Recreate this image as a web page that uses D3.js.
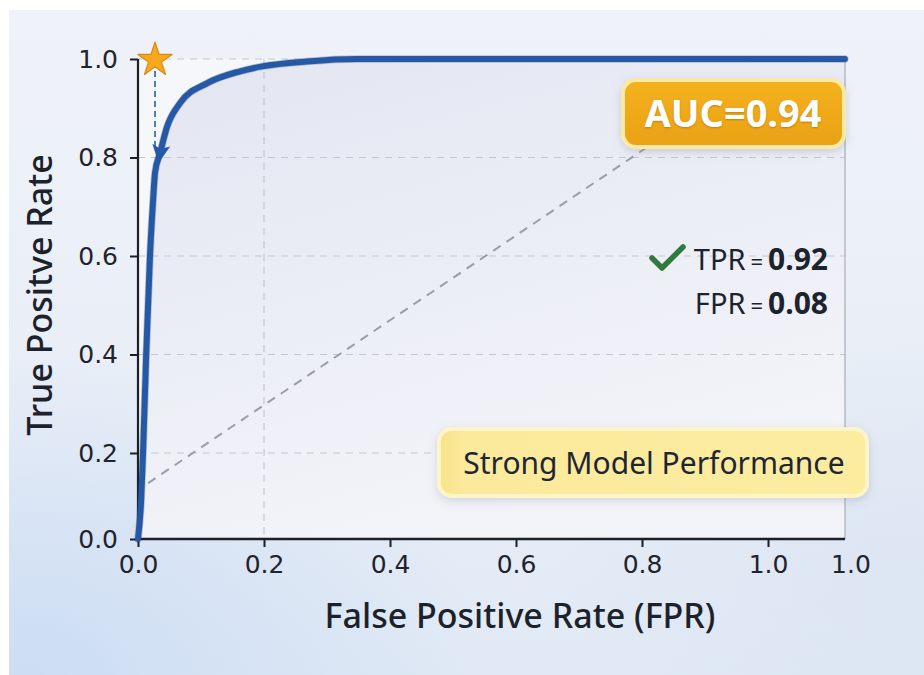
<!DOCTYPE html>
<html>
<head>
<meta charset="utf-8">
<script src="https://cdn.jsdelivr.net/npm/d3@7"></script>
<style>
  html, body { margin: 0; padding: 0; background: #ffffff; }
  svg { display: block; }
</style>
</head>
<body>
<svg id="chart" width="924" height="675"></svg>
<script>
// ROC curve points (false positive rate, true positive rate)
const rocFpr = [0, 0.005, 0.008, 0.013, 0.019, 0.024, 0.027, 0.035, 0.046, 0.067, 0.110, 0.162, 0.197, 0.268, 0.348, 1.122];
const rocTpr = [0, 0.09, 0.20, 0.40, 0.60, 0.714, 0.769, 0.809, 0.862, 0.911, 0.951, 0.975, 0.985, 0.995, 1.0, 1.0];

// reference (chance) line, drawn dashed
const refFpr = [0.016, 0.90];
const refTpr = [0.13, 0.90];

// highlighted operating point
const starPoint = { fpr: 0.027, tpr: 1.0 };
const arrowPoint = { fpr: 0.035, tpr: 0.809 };

const xTicks = [0, 0.2, 0.4, 0.6, 0.8, 1.0];
const xTickLabels = ["0.0", "0.2", "0.4", "0.6", "0.8", "1.0"];
const xEdgeLabel = "1.0";
const yTicks = [0, 0.2, 0.4, 0.6, 0.8, 1.0];
const yTickLabels = ["0.0", "0.2", "0.4", "0.6", "0.8", "1.0"];
const xGrid = [0.2];
const yGrid = [0.2, 0.4, 0.6, 0.8, 1.0];

const aucValue = 0.94;
const tprValue = 0.92;
const fprValue = 0.08;
const xTitle = "False Positive Rate (FPR)";
const yTitle = "True Positve Rate";
const noteText = "Strong Model Performance";

const svg = d3.select("#chart");
const defs = svg.append("defs");

// ---------- background ----------
const bgGrad = defs.append("linearGradient").attr("id", "bgGrad")
  .attr("x1", 0).attr("y1", 0).attr("x2", 0).attr("y2", 1);
bgGrad.append("stop").attr("offset", "0%").attr("stop-color", "#eff2f8");
bgGrad.append("stop").attr("offset", "60%").attr("stop-color", "#e9eef7");
bgGrad.append("stop").attr("offset", "100%").attr("stop-color", "#e0e9f5");

const bgGlow = defs.append("radialGradient").attr("id", "bgGlow")
  .attr("cx", 0.02).attr("cy", 1).attr("r", 0.5);
bgGlow.append("stop").attr("offset", "0%").attr("stop-color", "#cadcf3").attr("stop-opacity", 0.9);
bgGlow.append("stop").attr("offset", "100%").attr("stop-color", "#cadcf3").attr("stop-opacity", 0);

const bgGlow2 = defs.append("radialGradient").attr("id", "bgGlow2")
  .attr("cx", 1).attr("cy", 0.85).attr("r", 0.4);
bgGlow2.append("stop").attr("offset", "0%").attr("stop-color", "#dae4f1").attr("stop-opacity", 0.8);
bgGlow2.append("stop").attr("offset", "100%").attr("stop-color", "#dae4f1").attr("stop-opacity", 0);

svg.append("rect").attr("x", 9).attr("y", 10).attr("width", 915).attr("height", 665)
  .attr("fill", "url(#bgGrad)");
svg.append("rect").attr("x", 9).attr("y", 10).attr("width", 915).attr("height", 665)
  .attr("fill", "url(#bgGlow)");
svg.append("rect").attr("x", 9).attr("y", 10).attr("width", 915).attr("height", 665)
  .attr("fill", "url(#bgGlow2)");

// ---------- scales ----------
const plotLeft = 138, plotRight = 845, plotTop = 59, plotBottom = 539;
const x = d3.scaleLinear().domain([0, 1]).range([plotLeft, 768]);
const y = d3.scaleLinear().domain([0, 0.2, 1]).range([plotBottom, 453, plotTop]);

// plot panel
svg.append("rect")
  .attr("x", plotLeft).attr("y", plotTop)
  .attr("width", plotRight - plotLeft).attr("height", plotBottom - plotTop)
  .attr("fill", "#f6f7fb");

// ---------- area under the curve ----------
const rocData = rocFpr.map((f, i) => ({ fpr: f, tpr: rocTpr[i] }));
const areaGrad = defs.append("linearGradient").attr("id", "areaGrad")
  .attr("x1", 0).attr("y1", 0).attr("x2", 0.4).attr("y2", 1);
areaGrad.append("stop").attr("offset", "0%").attr("stop-color", "#e3e6f2");
areaGrad.append("stop").attr("offset", "100%").attr("stop-color", "#f3f4f9");

const area = d3.area()
  .x(d => x(d.fpr)).y0(y(0)).y1(d => y(d.tpr))
  .curve(d3.curveMonotoneX);
svg.append("path").datum(rocData).attr("d", area).attr("fill", "url(#areaGrad)");

// ---------- grid ----------
svg.append("g").selectAll("line").data(yGrid).join("line")
  .attr("x1", plotLeft).attr("x2", plotRight)
  .attr("y1", d => y(d)).attr("y2", d => y(d))
  .attr("stroke", "#c4c7d0").attr("stroke-width", 1.2)
  .attr("stroke-dasharray", "7,6");
svg.append("g").selectAll("line").data(xGrid).join("line")
  .attr("x1", d => x(d)).attr("x2", d => x(d))
  .attr("y1", plotTop).attr("y2", plotBottom)
  .attr("stroke", "#c4c7d0").attr("stroke-width", 1.2)
  .attr("stroke-dasharray", "7,6");

// right border of the panel
svg.append("line")
  .attr("x1", plotRight).attr("x2", plotRight).attr("y1", plotTop).attr("y2", plotBottom)
  .attr("stroke", "#a9acb4").attr("stroke-width", 1.2);

// ---------- chance line ----------
svg.append("line")
  .attr("x1", x(refFpr[0])).attr("y1", y(refTpr[0]))
  .attr("x2", x(refFpr[1])).attr("y2", y(refTpr[1]))
  .attr("stroke", "#9a9ca6").attr("stroke-width", 2)
  .attr("stroke-dasharray", "9,7");

// ---------- axes ----------
const xAxis = d3.axisBottom(x).tickValues(xTicks)
  .tickFormat((d, i) => xTickLabels[i]).tickSize(8).tickPadding(8);
const gx = svg.append("g").attr("transform", `translate(0,${plotBottom})`).call(xAxis);
gx.select(".domain").remove();
gx.selectAll(".tick line").attr("stroke", "#1b1f27").attr("stroke-width", 2);
gx.selectAll(".tick text").attr("font-family", "DejaVu Sans").attr("font-size", 25)
  .attr("fill", "#1f232b");
gx.append("text").attr("x", 851).attr("y", 16).attr("dy", "0.71em")
  .attr("text-anchor", "middle").attr("font-family", "DejaVu Sans").attr("font-size", 25)
  .attr("fill", "#1f232b").text(xEdgeLabel);

const yAxis = d3.axisLeft(y).tickValues(yTicks)
  .tickFormat((d, i) => yTickLabels[i]).tickSize(8).tickPadding(12);
const gy = svg.append("g").attr("transform", `translate(${plotLeft},0)`).call(yAxis);
gy.select(".domain").remove();
gy.selectAll(".tick line").attr("stroke", "#1b1f27").attr("stroke-width", 2);
gy.selectAll(".tick text").attr("font-family", "DejaVu Sans").attr("font-size", 25)
  .attr("fill", "#1f232b");

// axis lines
svg.append("line").attr("x1", plotLeft).attr("x2", plotLeft)
  .attr("y1", plotTop).attr("y2", plotBottom + 1)
  .attr("stroke", "#1b1f27").attr("stroke-width", 2.2);
svg.append("line").attr("x1", plotLeft - 1).attr("x2", plotRight)
  .attr("y1", plotBottom).attr("y2", plotBottom)
  .attr("stroke", "#1b1f27").attr("stroke-width", 2.4);

// ---------- ROC curve ----------
const line = d3.line().x(d => x(d.fpr)).y(d => y(d.tpr)).curve(d3.curveMonotoneX);
svg.append("path").datum(rocData).attr("d", line)
  .attr("fill", "none").attr("stroke", "#102a57").attr("stroke-width", 7.5)
  .attr("stroke-linecap", "round").attr("stroke-linejoin", "round").attr("opacity", 0.25);
svg.append("path").datum(rocData).attr("d", line)
  .attr("fill", "none").attr("stroke", "#2659a5").attr("stroke-width", 6)
  .attr("stroke-linecap", "round").attr("stroke-linejoin", "round");

// dashed drop line from the star to the curve
svg.append("line")
  .attr("x1", x(starPoint.fpr)).attr("x2", x(starPoint.fpr))
  .attr("y1", y(starPoint.tpr) + 12).attr("y2", y(arrowPoint.tpr) - 4)
  .attr("stroke", "#4a80c4").attr("stroke-width", 2).attr("stroke-dasharray", "6,4");

// arrowhead on the curve, pointing down along it
{
  const ax = x(arrowPoint.fpr), ay = y(arrowPoint.tpr);
  const bx = x(0.024), by = y(0.714);
  const ang = Math.atan2(by - ay, bx - ax) * 180 / Math.PI;
  svg.append("path")
    .attr("d", "M10,0 L-8,-9 L-4,0 L-8,9 Z")
    .attr("transform", `translate(${ax},${ay}) rotate(${ang})`)
    .attr("fill", "#2659a5");
}

// star marker
{
  const star = d3.symbol().type(d3.symbolStar).size(360);
  svg.append("path").attr("d", star())
    .attr("transform", `translate(${x(starPoint.fpr)},${y(starPoint.tpr) + 1})`)
    .attr("fill", "#f7a91d").attr("stroke", "#d98a0c").attr("stroke-width", 1.2)
    .attr("stroke-linejoin", "round");
}

// ---------- axis titles ----------
svg.append("text").attr("x", 520).attr("y", 628)
  .attr("text-anchor", "middle").attr("font-family", "Noto Sans").attr("font-weight", 500)
  .attr("font-size", 34).attr("fill", "#1c222c").text(xTitle);
svg.append("text").attr("transform", "translate(52,295) rotate(-90)")
  .attr("text-anchor", "middle").attr("font-family", "Noto Sans").attr("font-weight", 500)
  .attr("font-size", 34).attr("fill", "#1c222c").text(yTitle);

// ---------- drop shadow ----------
const shadow = defs.append("filter").attr("id", "softShadow")
  .attr("x", "-20%").attr("y", "-40%").attr("width", "140%").attr("height", "180%");
shadow.append("feDropShadow").attr("dx", 0).attr("dy", 3).attr("stdDeviation", 4)
  .attr("flood-color", "#6a7390").attr("flood-opacity", 0.25);

// ---------- AUC badge ----------
const aucGrad = defs.append("linearGradient").attr("id", "aucGrad")
  .attr("x1", 0).attr("y1", 0).attr("x2", 0).attr("y2", 1);
aucGrad.append("stop").attr("offset", "0%").attr("stop-color", "#f4b21f");
aucGrad.append("stop").attr("offset", "100%").attr("stop-color", "#eaa113");
svg.append("rect").attr("x", 623).attr("y", 80).attr("width", 221).attr("height", 67)
  .attr("rx", 13).attr("fill", "url(#aucGrad)")
  .attr("stroke", "#fbeaa6").attr("stroke-width", 4).attr("filter", "url(#softShadow)");
svg.append("text").attr("x", 733).attr("y", 127)
  .attr("text-anchor", "middle").attr("font-family", "Noto Sans").attr("font-weight", 700)
  .attr("font-size", 38).attr("fill", "#ffffff")
  .style("text-shadow", "0 1px 2px rgba(140,80,0,0.45)")
  .text(`AUC=${aucValue.toFixed(2)}`);

// ---------- TPR / FPR readout ----------
function readout(label, value, baseline) {
  const t = svg.append("text").attr("x", 828).attr("y", baseline)
    .attr("text-anchor", "end").attr("font-family", "Noto Sans").attr("fill", "#1d232c");
  t.append("tspan").attr("font-size", 29).text(label);
  t.append("tspan").attr("font-size", 22).attr("dx", 5).text("=");
  t.append("tspan").attr("font-size", 30).attr("font-weight", 700).attr("dx", 5).text(value.toFixed(2));
}
readout("TPR", tprValue, 270);
readout("FPR", fprValue, 314);
svg.append("path").attr("d", "M652,258 L662,268 L683,247")
  .attr("fill", "none").attr("stroke", "#2e7b3c").attr("stroke-width", 5.5)
  .attr("stroke-linecap", "round").attr("stroke-linejoin", "round");

// ---------- note box ----------
const noteGrad = defs.append("linearGradient").attr("id", "noteGrad")
  .attr("x1", 0).attr("y1", 0).attr("x2", 1).attr("y2", 0);
noteGrad.append("stop").attr("offset", "0%").attr("stop-color", "#f8e38a");
noteGrad.append("stop").attr("offset", "6%").attr("stop-color", "#fbea9c");
noteGrad.append("stop").attr("offset", "100%").attr("stop-color", "#fcec9f");
svg.append("rect").attr("x", 439).attr("y", 429).attr("width", 428).attr("height", 67)
  .attr("rx", 13).attr("fill", "url(#noteGrad)")
  .attr("stroke", "#fdf4c8").attr("stroke-width", 4).attr("filter", "url(#softShadow)");
svg.append("text").attr("x", 654).attr("y", 474)
  .attr("text-anchor", "middle").attr("font-family", "Noto Sans")
  .attr("font-size", 30).attr("fill", "#1e2633").text(noteText);
</script>
</body>
</html>
